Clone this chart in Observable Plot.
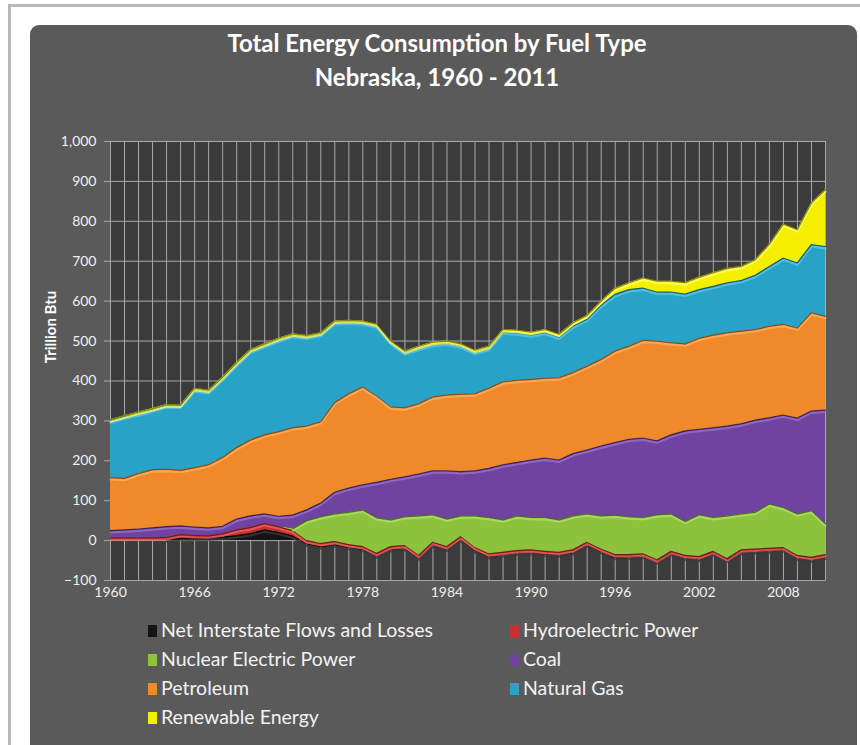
<!DOCTYPE html>
<html><head><meta charset="utf-8">
<script src="https://cdn.jsdelivr.net/npm/d3@7"></script>
<script src="https://cdn.jsdelivr.net/npm/@observablehq/plot@0.6"></script>
<style>
html,body{margin:0;padding:0;background:#fff;}
#page{position:relative;width:860px;height:745px;overflow:hidden;background:#fff;font-family:Lato,"Open Sans",sans-serif;}
.frameTop{position:absolute;left:8px;top:4px;width:852px;height:3px;background:#b9b9bb;}
.frameLeft{position:absolute;left:8px;top:4px;width:3px;height:741px;background:#b9b9bb;}
#panel{position:absolute;left:30px;top:25px;width:827px;height:740px;background:#5a5a5a;border-radius:9px;}
#title{position:absolute;left:30px;width:814px;top:26px;text-align:center;color:#fff;font-weight:bold;font-size:24px;line-height:34px;}
#ylab{position:absolute;left:50px;top:327px;transform:translate(-50%,-50%) rotate(-90deg);color:#fff;font-weight:bold;font-size:15px;white-space:nowrap;}
#chart{position:absolute;left:30px;top:125px;}
.leg{position:absolute;color:#f2f2f2;font-size:19.5px;line-height:20px;white-space:nowrap;}
.sw{display:inline-block;width:9px;height:12px;margin-right:4px;vertical-align:0px;}
</style>
</head><body>
<div id="page">
  <div class="frameTop"></div>
  <div class="frameLeft"></div>
  <div id="panel"></div>
  <div id="title">Total Energy Consumption by Fuel Type<br>Nebraska, 1960 - 2011</div>
  <div id="ylab">Trillion Btu</div>
  <div id="chart"></div>
  <div id="legend"></div>
</div>
<script>
const years = [1960,1961,1962,1963,1964,1965,1966,1967,1968,1969,1970,1971,1972,1973,1974,1975,1976,1977,1978,1979,
  1980,1981,1982,1983,1984,1985,1986,1987,1988,1989,1990,1991,1992,1993,1994,1995,1996,1997,1998,1999,
  2000,2001,2002,2003,2004,2005,2006,2007,2008,2009,2010,2011];
const xTicks = [1960,1966,1972,1978,1984,1990,1996,2002,2008];
const yTicks = [-100,0,100,200,300,400,500,600,700,800,900,1000];

const netFlows   = [0,0,0,0,2,7,7,7,9,13,18,27,21,12,-8,-15,-10,-17,-22,-38,
  -22,-19,-43,-11,-21,3,-25,-40,-35,-31,-29,-34,-35,-30,-10,-27,-42,-41,-39,-53,
  -32,-43,-46,-32,-48,-29,-27,-25,-22,-43,-48,-41];
const hydro      = [7,7,7,7,6,8,6,5,8,14,15,16,14,13,8,8,8,7,7,6,
  7,7,6,7,6,7,8,7,6,6,6,7,6,7,6,6,7,6,6,5,
  5,6,6,5,3,6,6,6,5,6,6,6];
const nuclear    = [0,0,0,0,0,0,0,0,0,0,0,0,0,5,50,67,69,81,92,89,
  67,72,99,69,69,52,79,91,81,87,81,85,81,85,71,83,99,95,91,113,
  94,85,105,85,107,90,92,111,100,104,117,77];
const coal       = [18,20,22,25,27,22,21,20,19,27,29,24,26,34,27,34,54,61,63,89,
  102,100,105,110,121,111,113,123,138,134,144,149,150,156,160,175,182,194,199,185,
  198,227,214,225,225,226,231,216,232,240,250,285];
const petroleum  = [133,129,139,146,144,139,149,158,172,179,190,198,212,219,210,204,225,236,245,216,
  181,173,176,185,190,194,193,201,208,206,202,200,206,203,210,217,229,233,245,250,
  231,218,228,232,234,232,227,229,227,226,246,235];
const naturalGas = [142,154,150,150,159,161,195,183,198,209,223,224,230,231,223,219,200,180,161,176,
  161,138,139,132,130,121,104,100,125,119,112,115,102,117,118,136,142,142,131,123,
  127,125,122,122,125,127,136,150,166,163,171,175];
const renewable  = [3,3,4,3,3,3,4,4,4,4,4,4,4,4,4,4,4,4,4,4,
  4,4,5,5,5,5,5,5,6,6,6,7,7,8,9,10,15,17,25,27,
  27,28,31,34,36,35,39,55,85,83,104,142];

const seriesNames  = ["Net Interstate Flows and Losses","Hydroelectric Power","Nuclear Electric Power","Coal","Petroleum","Natural Gas","Renewable Energy"];
const seriesValues = [netFlows, hydro, nuclear, coal, petroleum, naturalGas, renewable];
const seriesFill   = ["#141414","#c8302e","#8cc23c","#7043a0","#f0892a","#28a2c7","#f4ee00"];
const seriesHi     = ["#3a3a3a","#e86060","#b0dc6a","#9a72c8","#f8b060","#5cc6e4","#ffff70"];
const seriesEdge   = ["#000000","#5a1414","#3c5418","#2e1a48","#6a3a10","#10485a","#6a6a10"];

// Excel-style cumulative stacking (negatives included in running sum)
let cum = years.map(() => 0);
const stacks = seriesValues.map(vals => {
  const rows = years.map((yr, i) => ({year: yr, y1: cum[i], y2: cum[i] + vals[i], v: vals[i]}));
  cum = rows.map(d => d.y2);
  return rows;
});

const seriesMarks = [];
stacks.forEach((rows, k) => {
  seriesMarks.push(Plot.areaY(rows, {x: "year", y1: "y1", y2: "y2", fill: seriesFill[k]}));
  seriesMarks.push(Plot.lineY(rows, {x: "year", y: d => d.v !== 0 ? d.y2 : NaN, stroke: seriesHi[k], strokeWidth: 2, dy: 2, strokeOpacity: 0.8}));
  seriesMarks.push(Plot.lineY(rows, {x: "year", y: d => d.v !== 0 ? d.y2 : NaN, stroke: seriesEdge[k], strokeWidth: 1.2, strokeOpacity: 0.8}));
});

const chart = Plot.plot({
  width: 810, height: 490,
  marginLeft: 80, marginRight: 15, marginTop: 16, marginBottom: 35,
  x: {domain: [1960, 2011]},
  y: {domain: [-100, 1000]},
  style: {background: "transparent", color: "#f0f0f0", fontSize: "14px", fontFamily: "Lato, sans-serif"},
  marks: [
    Plot.frame({fill: "#3b3b3b", stroke: "#8a8a8a"}),
    Plot.ruleX(years, {stroke: "#a9a9a9", strokeWidth: 1}),
    Plot.ruleY(yTicks, {stroke: "#a9a9a9", strokeWidth: 1}),
    ...seriesMarks,
    Plot.axisX({ticks: xTicks, tickFormat: d => String(d), tickSize: 0, tickPadding: 7, label: null}),
    Plot.axisY({ticks: yTicks, tickFormat: d3.format(","), tickSize: 6, tickPadding: 8, label: null, stroke: "#a9a9a9"})
  ]
});
document.getElementById("chart").appendChild(chart);

// legend
const legendPos = [[148,620],[510,620],[148,649],[510,649],[148,678],[510,678],[148,707]];
const legend = document.getElementById("legend");
seriesNames.forEach((name, k) => {
  const el = document.createElement("div");
  el.className = "leg";
  el.style.left = legendPos[k][0] + "px";
  el.style.top = legendPos[k][1] + "px";
  const sw = document.createElement("span");
  sw.className = "sw";
  sw.style.background = seriesFill[k];
  el.appendChild(sw);
  el.appendChild(document.createTextNode(name));
  legend.appendChild(el);
});
</script>
</body></html>
